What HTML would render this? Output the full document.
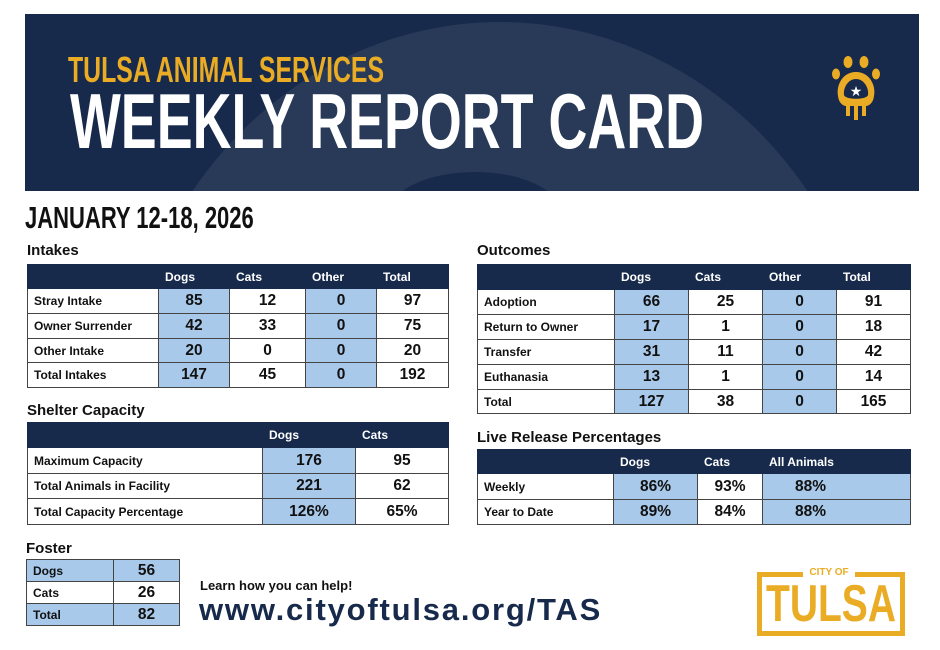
<!DOCTYPE html>
<html><head><meta charset="utf-8"><style>
body{margin:0;width:940px;height:650px;background:#fff;position:relative;overflow:hidden;font-family:"Liberation Sans",sans-serif;color:#111}
.ab{position:absolute}
.banner{left:25px;top:14px;width:894px;height:177px;background:#182a4b;overflow:hidden}
.arc{left:95px;top:8px;width:760px;height:820px;border-radius:50%;background:#283a58}
.arc2{left:365px;top:158px;width:170px;height:80px;border-radius:50%;background:#182a4b}
.cond{display:inline-block;transform-origin:0 0;white-space:nowrap;font-weight:bold}
table{position:absolute;border-collapse:collapse;table-layout:fixed}
td{border:1px solid #444;font-weight:bold;padding:0;overflow:hidden;white-space:nowrap}
tr.h td{background:#172a4b;color:#fff;font-size:12px;padding-left:6px;border-color:#172a4b}
td.l{font-size:12px;padding-left:6px}
td.n{font-size:15.5px;text-align:center}
.b{background:#a8c9ea}
.t{font-weight:bold;font-size:15px;position:absolute}
</style></head><body>
<div class="ab banner">
 <div class="ab arc"></div><div class="ab arc2"></div>
 <div class="ab" style="left:43px;top:36px;color:#e9ac24;font-size:36px;line-height:40px"><span class="cond" style="transform:scaleX(0.69)">TULSA ANIMAL SERVICES</span></div>
 <div class="ab" style="left:45px;top:63px;color:#fff;font-size:78px;line-height:88px"><span class="cond" style="transform:scaleX(0.69)">WEEKLY REPORT CARD</span></div>
 <svg class="ab" style="left:805px;top:40px" width="52" height="72" viewBox="0 0 52 72">
  <g fill="#e9ac24"><ellipse cx="18" cy="8" rx="4.5" ry="6"/><ellipse cx="34" cy="8" rx="4.5" ry="6"/><ellipse cx="6" cy="20" rx="4" ry="5.5"/><ellipse cx="46" cy="20" rx="4" ry="5.5"/>
  <path d="M26 18 C12 18 6 32 8 42 C9 50 14 52 16 52 L16 62 L20 62 L20 52 L24 52 L24 66 L28 66 L28 52 L32 52 L32 62 L36 62 L36 52 C38 52 43 50 44 42 C46 32 40 18 26 18Z"/></g>
  <path d="M26 25 C18 25 13 34 14 41 C15 46 37 46 38 41 C39 34 34 25 26 25Z" fill="#182a4b"/>
  <text x="26" y="42" font-size="14" fill="#fff" text-anchor="middle" font-family="DejaVu Sans">★</text>
 </svg>
</div>
<div class="ab" style="left:25px;top:200px;font-size:31px;line-height:36px;color:#111"><span class="cond" style="transform:scaleX(0.71)">JANUARY 12-18, 2026</span></div>

<div class="t" style="left:27px;top:242px">Intakes</div>
<table style="left:27px;top:264px;width:421px">
<col style="width:131px"><col style="width:71px"><col style="width:76px"><col style="width:71px"><col style="width:72px">
<tr class="h" style="height:24px"><td></td><td>Dogs</td><td>Cats</td><td>Other</td><td>Total</td></tr>
<tr style="height:25px"><td class="l">Stray Intake</td><td class="n b">85</td><td class="n">12</td><td class="n b">0</td><td class="n">97</td></tr>
<tr style="height:25px"><td class="l">Owner Surrender</td><td class="n b">42</td><td class="n">33</td><td class="n b">0</td><td class="n">75</td></tr>
<tr style="height:24px"><td class="l">Other Intake</td><td class="n b">20</td><td class="n">0</td><td class="n b">0</td><td class="n">20</td></tr>
<tr style="height:25px"><td class="l">Total Intakes</td><td class="n b">147</td><td class="n">45</td><td class="n b">0</td><td class="n">192</td></tr>
</table>

<div class="t" style="left:477px;top:242px">Outcomes</div>
<table style="left:477px;top:264px;width:433px">
<col style="width:137px"><col style="width:74px"><col style="width:74px"><col style="width:74px"><col style="width:74px">
<tr class="h" style="height:25px"><td></td><td>Dogs</td><td>Cats</td><td>Other</td><td>Total</td></tr>
<tr style="height:25px"><td class="l">Adoption</td><td class="n b">66</td><td class="n">25</td><td class="n b">0</td><td class="n">91</td></tr>
<tr style="height:25px"><td class="l">Return to Owner</td><td class="n b">17</td><td class="n">1</td><td class="n b">0</td><td class="n">18</td></tr>
<tr style="height:25px"><td class="l">Transfer</td><td class="n b">31</td><td class="n">11</td><td class="n b">0</td><td class="n">42</td></tr>
<tr style="height:25px"><td class="l">Euthanasia</td><td class="n b">13</td><td class="n">1</td><td class="n b">0</td><td class="n">14</td></tr>
<tr style="height:24px"><td class="l">Total</td><td class="n b">127</td><td class="n">38</td><td class="n b">0</td><td class="n">165</td></tr>
</table>

<div class="t" style="left:27px;top:402px">Shelter Capacity</div>
<table style="left:27px;top:422px;width:421px">
<col style="width:235px"><col style="width:93px"><col style="width:93px">
<tr class="h" style="height:25px"><td></td><td>Dogs</td><td>Cats</td></tr>
<tr style="height:26px"><td class="l">Maximum Capacity</td><td class="n b">176</td><td class="n">95</td></tr>
<tr style="height:25px"><td class="l">Total Animals in Facility</td><td class="n b">221</td><td class="n">62</td></tr>
<tr style="height:26px"><td class="l">Total Capacity Percentage</td><td class="n b">126%</td><td class="n">65%</td></tr>
</table>

<div class="t" style="left:477px;top:429px">Live Release Percentages</div>
<table style="left:477px;top:449px;width:433px">
<col style="width:136px"><col style="width:84px"><col style="width:65px"><col style="width:148px">
<tr class="h" style="height:24px"><td></td><td>Dogs</td><td>Cats</td><td>All Animals</td></tr>
<tr style="height:26px"><td class="l">Weekly</td><td class="n b">86%</td><td class="n">93%</td><td class="n b" style="text-align:left;padding-left:32px">88%</td></tr>
<tr style="height:25px"><td class="l">Year to Date</td><td class="n b">89%</td><td class="n">84%</td><td class="n b" style="text-align:left;padding-left:32px">88%</td></tr>
</table>

<div class="t" style="left:26px;top:540px">Foster</div>
<table style="left:26px;top:559px;width:153px">
<col style="width:87px"><col style="width:66px">
<tr style="height:22px"><td class="l b">Dogs</td><td class="n b">56</td></tr>
<tr style="height:22px"><td class="l">Cats</td><td class="n">26</td></tr>
<tr style="height:22px"><td class="l b">Total</td><td class="n b">82</td></tr>
</table>

<div class="ab" style="left:200px;top:578px;font-size:13px;font-weight:bold">Learn how you can help!</div>
<div class="ab" style="left:199px;top:592px;font-size:31px;line-height:36px;font-weight:bold;color:#172a4b;letter-spacing:1.8px">www.cityoftulsa.org/TAS</div>

<div class="ab" style="left:757px;top:572px;width:138px;height:54px;border:5px solid #e9ac24"></div>
<div class="ab" style="left:803px;top:567px;width:52px;height:12px;background:#fff;color:#e9ac24;font-size:10px;font-weight:bold;text-align:center;line-height:12px">CITY OF</div>
<div class="ab" style="left:766px;top:577px;color:#e9ac24;font-size:52px;font-weight:bold;line-height:54px;height:54px;overflow:visible"><span class="cond" style="transform:scaleX(0.75)">TULSA</span></div>
</body></html>
